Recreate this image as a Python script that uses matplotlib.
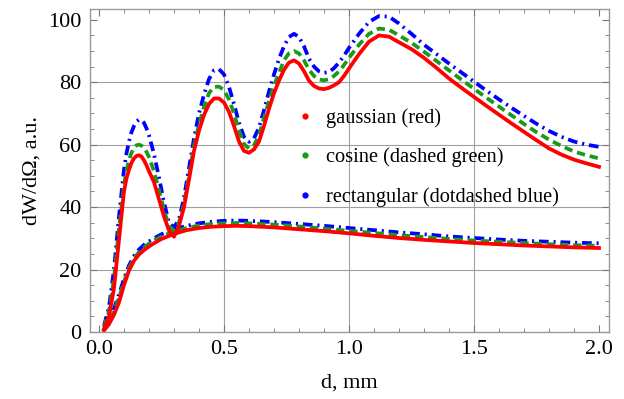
import numpy as np
import matplotlib
matplotlib.use("Agg")
import matplotlib.pyplot as plt
from matplotlib.lines import Line2D
from matplotlib.ticker import MultipleLocator

plt.rcParams['font.family'] = ['Liberation Serif', 'DejaVu Serif']
plt.rcParams['lines.scale_dashes'] = False

# oscillating curves (upper group)
x_up = [0.02, 0.04, 0.06, 0.08, 0.10, 0.11, 0.12, 0.13, 0.14, 0.15, 0.16, 0.17, 0.18, 0.19, 0.20,
        0.22, 0.24, 0.26, 0.28, 0.30, 0.32, 0.34, 0.36, 0.38, 0.40,
        0.42, 0.44, 0.46, 0.48, 0.50, 0.52, 0.54, 0.56, 0.58, 0.60,
        0.62, 0.64, 0.66, 0.68, 0.70, 0.72, 0.74, 0.76, 0.78, 0.80,
        0.82, 0.84, 0.86, 0.88, 0.90, 0.92, 0.94, 0.96, 0.98, 1.00,
        1.04, 1.08, 1.12, 1.16, 1.20, 1.25, 1.30, 1.35, 1.40, 1.45,
        1.50, 1.55, 1.60, 1.65, 1.70, 1.75, 1.80, 1.85, 1.90, 1.95, 2.00]
red_up = [1.0, 5.0, 14.0, 29.5, 45.0, 49.2, 52.0, 54.2, 55.6, 56.4, 56.6, 56.2, 55.0, 53.4, 51.5,
          48.0, 42.5, 37.0, 32.5, 30.5, 34.0, 40.0, 48.8, 58.0, 64.5,
          69.5, 73.0, 74.8, 74.8, 73.5, 70.5, 66.0, 61.0, 58.0, 57.4,
          58.5, 61.0, 66.0, 71.5, 76.5, 80.5, 84.0, 86.3, 87.0, 86.0,
          83.5, 80.5, 78.8, 78.0, 77.8, 78.2, 79.0, 80.0, 82.0, 84.4,
          89.0, 93.0, 95.0, 94.6, 92.8, 90.6, 87.8, 84.6, 81.2, 78.2,
          75.3, 72.4, 69.6, 66.8, 64.1, 61.4, 58.8, 56.8, 55.2, 54.0, 52.9]
green_up = [1.5, 6.5, 17.0, 33.0, 47.0, 51.8, 55.0, 57.4, 59.0, 59.8, 60.0, 59.7, 59.0, 57.7, 56.0,
            51.5, 45.5, 39.0, 34.0, 32.5, 35.0, 41.0, 50.0, 59.5, 66.5,
            72.0, 76.5, 78.5, 78.6, 77.5, 74.5, 70.0, 64.5, 60.2, 58.8,
            59.8, 63.0, 68.5, 74.0, 79.0, 83.0, 87.0, 89.3, 90.0, 89.2,
            87.0, 84.0, 82.0, 80.9, 80.6, 81.0, 82.0, 83.5, 85.5, 87.8,
            92.0, 95.5, 97.2, 96.8, 95.0, 92.6, 89.8, 86.8, 83.8, 80.8,
            77.9, 75.0, 72.2, 69.4, 66.6, 64.0, 61.6, 59.6, 57.8, 56.6, 55.6]
blue_up = [2.0, 8.0, 20.0, 37.0, 52.0, 57.2, 61.0, 64.0, 66.0, 67.4, 68.0, 67.8, 67.0, 65.2, 63.0,
           57.0, 49.5, 41.5, 35.0, 33.5, 36.0, 43.0, 52.5, 62.0, 70.0,
           76.0, 81.0, 83.8, 84.2, 82.5, 78.5, 73.0, 67.0, 62.5, 60.9,
           62.0, 65.5, 71.0, 77.0, 82.5, 87.5, 91.5, 94.5, 95.5, 94.5,
           91.5, 87.5, 85.0, 83.5, 83.0, 83.3, 84.5, 86.3, 88.5, 91.0,
           95.5, 99.3, 101.2, 101.0, 98.8, 95.5, 92.0, 89.0, 86.0, 83.1,
           80.2, 77.3, 74.5, 71.8, 69.2, 66.7, 64.4, 62.5, 61.0, 60.0, 59.3]

# smooth curves (lower group)
x_low = [0.02, 0.04, 0.06, 0.08, 0.10, 0.12, 0.14, 0.16, 0.18, 0.20,
         0.22, 0.25, 0.30, 0.35, 0.40, 0.45, 0.50, 0.55, 0.60, 0.70,
         0.80, 0.90, 1.00, 1.10, 1.20, 1.30, 1.40, 1.50, 1.60, 1.70,
         1.80, 1.90, 2.00]
red_low = [0.5, 2.5, 5.5, 9.5, 15.0, 19.7, 22.8, 24.8, 26.2, 27.4,
           28.4, 29.8, 31.4, 32.6, 33.3, 33.7, 33.9, 34.0, 33.9, 33.5,
           32.9, 32.3, 31.6, 30.8, 30.1, 29.5, 29.0, 28.5, 28.1, 27.7,
           27.4, 27.1, 26.9]
green_low = [0.6, 3.0, 6.5, 11.0, 16.0, 20.5, 23.5, 25.6, 27.1, 28.3,
             29.3, 30.6, 32.2, 33.3, 34.1, 34.6, 34.8, 34.9, 34.8, 34.4,
             33.8, 33.1, 32.4, 31.7, 31.0, 30.4, 29.8, 29.3, 28.9, 28.5,
             28.1, 27.8, 27.6]
blue_low = [0.8, 3.5, 7.5, 12.0, 17.0, 21.3, 24.3, 26.4, 27.9, 29.0,
            30.0, 31.3, 32.9, 34.0, 34.8, 35.3, 35.6, 35.7, 35.6, 35.2,
            34.6, 34.0, 33.3, 32.6, 31.9, 31.3, 30.6, 30.1, 29.6, 29.2,
            28.9, 28.6, 28.4]

labels = ['gaussian (red)', 'cosine (dashed green)', 'rectangular (dotdashed blue)']
colors = ['#ff0000', '#1a9a1a', '#0000ff']

fig = plt.figure(figsize=(6.24, 3.99), dpi=100)
ax = fig.add_axes([0.1442, 0.168, 0.976 - 0.1442, 0.977 - 0.168])

lw = 2.7
blue_ls = (0, (7, 3.5, 1.5, 3.5))
green_ls = (0, (6, 3.5))
common = dict(lw=lw, solid_joinstyle='round', dash_joinstyle='round')
ax.plot(x_up, blue_up, color=colors[2], ls=blue_ls, **common)
ax.plot(x_low, blue_low, color=colors[2], ls=blue_ls, **common)
ax.plot(x_up, green_up, color=colors[1], ls=green_ls, **common)
ax.plot(x_low, green_low, color=colors[1], ls=green_ls, **common)
ax.plot(x_up, red_up, color=colors[0], **common)
ax.plot(x_low, red_low, color=colors[0], **common)

ax.set_xlim(-0.036, 2.04)
ax.set_ylim(0, 103.4)

for gx in [0.5, 1.0, 1.5]:
    ax.axvline(gx, color='#a0a0a0', lw=0.8, zorder=0)
for gy in [20, 40, 60, 80]:
    ax.axhline(gy, color='#a0a0a0', lw=0.8, zorder=0)

ax.xaxis.set_minor_locator(MultipleLocator(0.1))
ax.yaxis.set_major_locator(MultipleLocator(20))
ax.yaxis.set_minor_locator(MultipleLocator(5))
ax.set_xticks([0, 0.5, 1.0, 1.5, 2.0])
ax.set_xticklabels(['0.0', '0.5', '1.0', '1.5', '2.0'])
ax.tick_params(which='both', direction='in', top=True, right=True, color='#777777',
               labelsize=16, pad=6)
ax.tick_params(which='major', length=5, width=0.8)
ax.tick_params(which='minor', length=3, width=0.6)
for sp in ax.spines.values():
    sp.set_color('#999999')
    sp.set_linewidth(1.0)

ax.set_xlabel('d, mm', fontsize=16, labelpad=10)
ax.set_ylabel('dW/dΩ, a.u.', fontsize=16, labelpad=5)

handles = [Line2D([], [], color=c, marker='o', ls='none', markersize=3.5) for c in colors]
ax.legend(handles, labels, loc='upper left', bbox_to_anchor=(0.382, 0.725),
          frameon=False, fontsize=14.7, handlelength=0.6, handletextpad=0.75,
          labelspacing=0.97, borderpad=0)

fig.savefig('out.png', dpi=100)
